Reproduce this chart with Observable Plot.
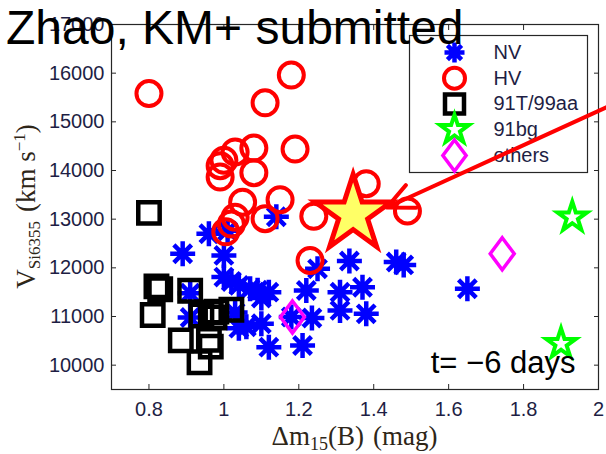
<!DOCTYPE html>
<html><head><meta charset="utf-8">
<script src="https://cdn.jsdelivr.net/npm/d3@7"></script>
<script src="https://cdn.jsdelivr.net/npm/@observablehq/plot@0.6"></script>
<style>
body{margin:0;background:#fff;}
#wrap{position:relative;width:606px;height:454px;overflow:hidden;}
#title{position:absolute;left:6px;top:4px;font-family:'Liberation Sans',Arial,sans-serif;font-size:48px;line-height:48px;color:#000;white-space:nowrap;z-index:2;}
</style></head><body>
<div id="wrap"><div id="title">Zhao, KM+ submitted</div></div>
<script>
// ---- data: [Δm15(B) (mag), V_Si6355 (km/s)] ----
const NV = [[0.89,12290],[0.96,12700],[1.01,12760],[1.00,12255],[1.14,13050],[1.00,11810],[1.02,11720],[1.04,11640],[1.07,11570],[1.09,11540],[1.10,11380],[1.12,11500],[0.91,11480],[0.91,10980],[1.03,11080],[1.04,10760],[1.06,10790],[1.10,10850],[1.12,10370],[1.21,10405],[1.22,11535],[1.25,11980],[1.335,12140],[1.46,12120],[1.48,12060],[1.31,11500],[1.37,11600],[1.31,11125],[1.38,11055],[1.235,10970],[1.18,10990],[1.65,11570]];
const HV = [[0.80,15580],[1.18,15960],[1.11,15390],[1.19,14440],[1.08,14460],[1.03,14380],[1.00,14210],[0.99,14100],[1.08,13955],[0.99,13865],[1.05,13350],[1.15,13400],[1.24,13060],[1.11,13010],[1.03,13040],[1.02,12900],[1.005,12740],[1.23,12150],[1.38,13730],[1.49,13170]];
const T91_99aa = [[0.80,13130],[0.82,11620],[0.83,11560],[0.81,11030],[0.91,11530],[0.94,11020],[0.965,11080],[0.98,11100],[0.975,10980],[1.02,11140],[0.885,10510],[0.96,10520],[0.965,10380],[0.935,10060]];
const BG91 = [[1.93,13040],[1.90,10440]];
const OTHERS = [[1.743,12290],[1.183,10990]];
const HIGHLIGHT = [[1.345,13100]];
const ARROW = [[2.03,15330,1.435,13240]];
const legendLabels = ["NV","HV","91T/99aa","91bg","others"];
const xTicks = [0.8,1,1.2,1.4,1.6,1.8,2];
const yTicks = [10000,11000,12000,13000,14000,15000,16000,17000];
const annotation = ["t= \u22126 days"];

// ---- symbols ----
const asterisk8 = {draw(ctx, size){ const r=Math.sqrt(size/Math.PI); for(let k=0;k<4;k++){const a=k*Math.PI/4, c=Math.cos(a)*r, s=Math.sin(a)*r; ctx.moveTo(-c,-s); ctx.lineTo(c,s);} }};
const pentagram = {draw(ctx, size){ const r=Math.sqrt(size/Math.PI), ri=r*0.382; for(let k=0;k<10;k++){const rr=k%2?ri:r, a=-Math.PI/2+k*Math.PI/5, px=Math.cos(a)*rr, py=Math.sin(a)*rr; if(k) ctx.lineTo(px,py); else ctx.moveTo(px,py);} ctx.closePath(); }};
const squareSym = {draw(ctx, size){ const r=Math.sqrt(size/Math.PI); ctx.moveTo(-r,-r); ctx.lineTo(r,-r); ctx.lineTo(r,r); ctx.lineTo(-r,r); ctx.closePath(); }};
const diamondSym = {draw(ctx, size){ const r=Math.sqrt(size/Math.PI); ctx.moveTo(0,-r); ctx.lineTo(0.75*r,0); ctx.lineTo(0,r); ctx.lineTo(-0.75*r,0); ctx.closePath(); }};

const sans = "'Liberation Sans', Arial, sans-serif";
const serif = "'Liberation Serif', 'Times New Roman', serif";
const tickColor = "#1e1e44";
const labelColor = "#2e2618";

const series = [
  {data: NV, symbol: asterisk8, r: 12.5, stroke: "#0000ff", sw: 4.5, lr: 10},
  {data: HV, symbol: "circle", r: 12.5, stroke: "#ff0000", sw: 4, lr: 10.5},
  {data: T91_99aa, symbol: squareSym, r: 10.7, stroke: "#000000", sw: 4.5, lr: 9.5},
  {data: BG91, symbol: pentagram, r: 15.5, stroke: "#00ff00", sw: 4, lr: 15},
  {data: OTHERS, symbol: diamondSym, r: 16, stroke: "#ff00ff", sw: 3.5, lr: 15.5}
];

const W = 606, H = 454, mL = 111, mR = 8, mT = 24, mB = 65;
const legLeft = 409, legRight = 587, legTop = 35, legBottom = 172;
const legMarkX = 454, legTextX = 493, legY0 = 52, legStep = 25.75;

const marks = [
  Plot.frame({stroke: "#262626", strokeWidth: 1.2}),
  Plot.axisX(xTicks, {anchor: "bottom", tickSize: 0, tickPadding: 12, label: null, fill: tickColor, fontSize: 20, tickFormat: d => String(d)}),
  Plot.axisX(xTicks, {anchor: "bottom", tickSize: -5, fill: "none", label: null, stroke: "#262626"}),
  Plot.axisX(xTicks, {anchor: "top", tickSize: -5, fill: "none", label: null, stroke: "#262626"}),
  Plot.axisY(yTicks, {anchor: "left", tickSize: 0, tickPadding: 7, label: null, fill: tickColor, fontSize: 20, tickFormat: d => String(d)}),
  Plot.axisY(yTicks, {anchor: "left", tickSize: -5, fill: "none", label: null, stroke: "#262626"}),
  Plot.axisY(yTicks, {anchor: "right", tickSize: -5, fill: "none", label: null, stroke: "#262626"}),
  ...series.map(s => Plot.dot(s.data, {x: d => d[0], y: d => d[1], symbol: s.symbol, r: s.r, stroke: s.stroke, strokeWidth: s.sw, fill: "none", strokeLinecap: "butt"})),
  Plot.dot(HIGHLIGHT, {x: d => d[0], y: d => d[1], symbol: pentagram, r: 40, fill: "#ffff66", stroke: "#ff0000", strokeWidth: 5, strokeLinejoin: "miter"}),
  Plot.frame({fill: "white", stroke: "#262626", strokeWidth: 1.2, insetLeft: legLeft - mL, insetRight: W - mR - legRight, insetTop: legTop - mT, insetBottom: H - mB - legBottom}),
  ...series.map((s, i) => Plot.dot([s], {frameAnchor: "top-left", dx: legMarkX - mL, dy: legY0 - mT + i * legStep, symbol: s.symbol, r: s.lr, stroke: s.stroke, strokeWidth: s.sw, fill: "none"})),
  ...legendLabels.map((t, i) => Plot.text([t], {text: d => d, frameAnchor: "top-left", dx: legTextX - mL, dy: legY0 - mT + i * legStep, textAnchor: "start", lineAnchor: "middle", fontSize: 20, fill: tickColor})),
  Plot.text(annotation, {text: d => d, frameAnchor: "bottom-right", textAnchor: "end", lineAnchor: "bottom", dx: -23, dy: -17, fontSize: 31, fill: "#000"}),
  Plot.arrow(ARROW, {x1: d => d[0], y1: d => d[1], x2: d => d[2], y2: d => d[3], stroke: "#ff0000", strokeWidth: 4, headLength: 11, headAngle: 50})
];

const chart = Plot.plot({
  width: W, height: H, marginLeft: mL, marginRight: mR, marginTop: mT, marginBottom: mB,
  x: {domain: [0.7, 2.0]}, y: {domain: [9500, 17000]},
  style: {fontFamily: sans, fontSize: "20px", background: "transparent", overflow: "visible"},
  marks
});

// axis titles with sub/superscripts
const svg = d3.select(chart);
const cx = (mL + W - mR) / 2, cy = (mT + H - mB) / 2;
const xl = svg.append("text").attr("x", cx).attr("y", 445).attr("text-anchor", "middle")
  .attr("font-family", serif).attr("font-size", 27).attr("fill", labelColor);
xl.append("tspan").text("\u0394m");
xl.append("tspan").attr("font-size", 18).attr("dy", 5).text("15");
xl.append("tspan").attr("dy", -5).text("(B)");
xl.append("tspan").attr("dx", 9).text("(mag)");

const yl = svg.append("text").attr("transform", `translate(35,${cy}) rotate(-90)`).attr("text-anchor", "middle")
  .attr("font-family", serif).attr("font-size", 27).attr("fill", labelColor);
yl.append("tspan").text("V");
yl.append("tspan").attr("font-size", 17).attr("dy", 5).text("Si6355");
yl.append("tspan").attr("dy", -5).attr("dx", 9).text("(km s");
yl.append("tspan").attr("font-size", 17).attr("dy", -10).text("\u22121");
yl.append("tspan").attr("dy", 10).text(")");

document.getElementById("wrap").appendChild(chart);
</script>
</body></html>
